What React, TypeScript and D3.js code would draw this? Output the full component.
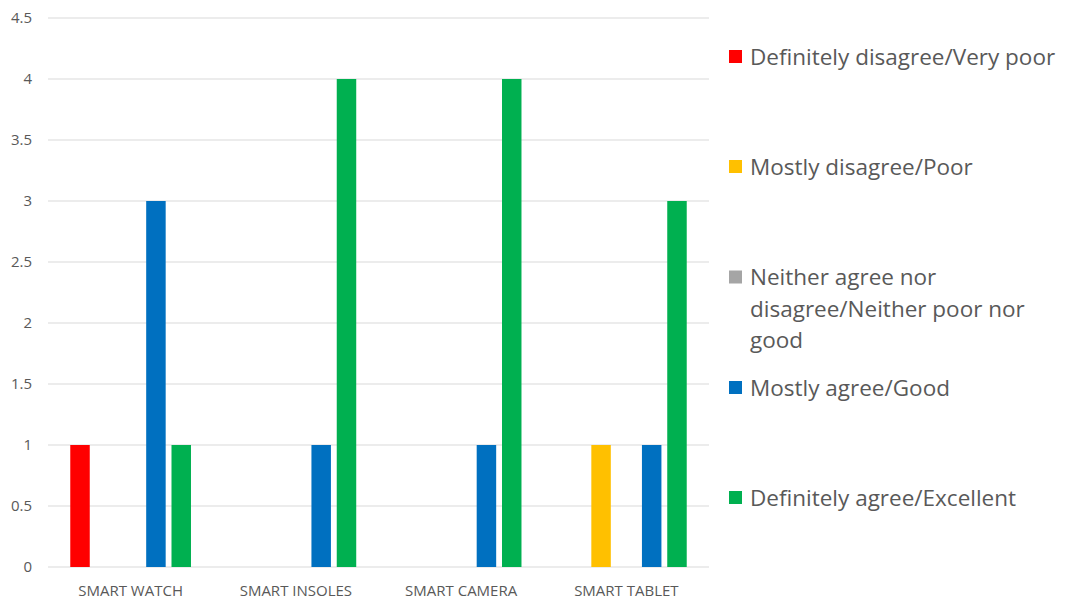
import React from "react";
import * as d3 from "d3";

const categories = ["SMART WATCH", "SMART INSOLES", "SMART CAMERA", "SMART TABLET"];
const seriesNames = [
  "Definitely disagree/Very poor",
  "Mostly disagree/Poor",
  "Neither agree nor disagree/Neither poor nor good",
  "Mostly agree/Good",
  "Definitely agree/Excellent",
];
const seriesColors = ["#FF0000", "#FFC000", "#A5A5A5", "#0070C0", "#00B050"];
const definitelyDisagree = [1, 0, 0, 0];
const mostlyDisagree = [0, 0, 0, 1];
const neither = [0, 0, 0, 0];
const mostlyAgree = [3, 1, 1, 1];
const definitelyAgree = [1, 4, 4, 3];
const seriesValues = [definitelyDisagree, mostlyDisagree, neither, mostlyAgree, definitelyAgree];
const yTicks = [0, 0.5, 1, 1.5, 2, 2.5, 3, 3.5, 4, 4.5];
const legendLines = [
  ["Definitely disagree/Very poor"],
  ["Mostly disagree/Poor"],
  ["Neither agree nor", "disagree/Neither poor nor", "good"],
  ["Mostly agree/Good"],
  ["Definitely agree/Excellent"],
];
const legendCenters = [57, 167, 309, 388, 498];

const W = 1065;
const H = 599;
const left = 48;
const right = 709;
const top = 18;
const bottom = 567;
const textColor = "#595959";
const font = "'Open Sans', 'Noto Sans', sans-serif";

export default function App() {
  const x0 = d3.scaleBand<string>().domain(categories).range([left, right]).padding(0);
  const x1 = d3
    .scaleBand<string>()
    .domain(seriesNames)
    .range([0, x0.bandwidth()])
    .paddingInner(0.23)
    .paddingOuter(0.88);
  const y = d3.scaleLinear().domain([0, 4.5]).range([bottom, top]);

  return (
    <svg width={W} height={H} style={{ position: "absolute", left: 0, top: 0, background: "#fff" }}>
      {yTicks.map((t) => (
        <g key={t}>
          <line x1={left} x2={right} y1={y(t)} y2={y(t)} stroke="#D9D9D9" strokeWidth={1} />
          <text
            x={32}
            y={y(t)}
            dy="0.35em"
            textAnchor="end"
            fontFamily={font}
            fontSize={15}
            fill={textColor}
          >
            {t}
          </text>
        </g>
      ))}
      {categories.map((c, ci) => (
        <g key={c} transform={`translate(${x0(c)},0)`}>
          {seriesNames.map((s, si) => {
            const v = seriesValues[si][ci];
            if (!v) return null;
            return (
              <rect
                key={s}
                x={x1(s)}
                y={y(v)}
                width={x1.bandwidth()}
                height={y(0) - y(v)}
                fill={seriesColors[si]}
              />
            );
          })}
          <text
            x={x0.bandwidth() / 2}
            y={596}
            textAnchor="middle"
            fontFamily={font}
            fontSize={15}
            fill={textColor}
          >
            {c}
          </text>
        </g>
      ))}
      {legendLines.map((lines, i) => {
        const lh = 31.5;
        const c = legendCenters[i];
        const firstY = c - ((lines.length - 1) * lh) / 2;
        return (
          <g key={i}>
            <rect x={729} y={firstY - 7} width={13} height={13} fill={seriesColors[i]} />
            {lines.map((ln, li) => (
              <text
                key={li}
                x={750}
                y={firstY + li * lh}
                dy="0.35em"
                fontFamily={font}
                fontSize={22.5}
                fill={textColor}
              >
                {ln}
              </text>
            ))}
          </g>
        );
      })}
    </svg>
  );
}
